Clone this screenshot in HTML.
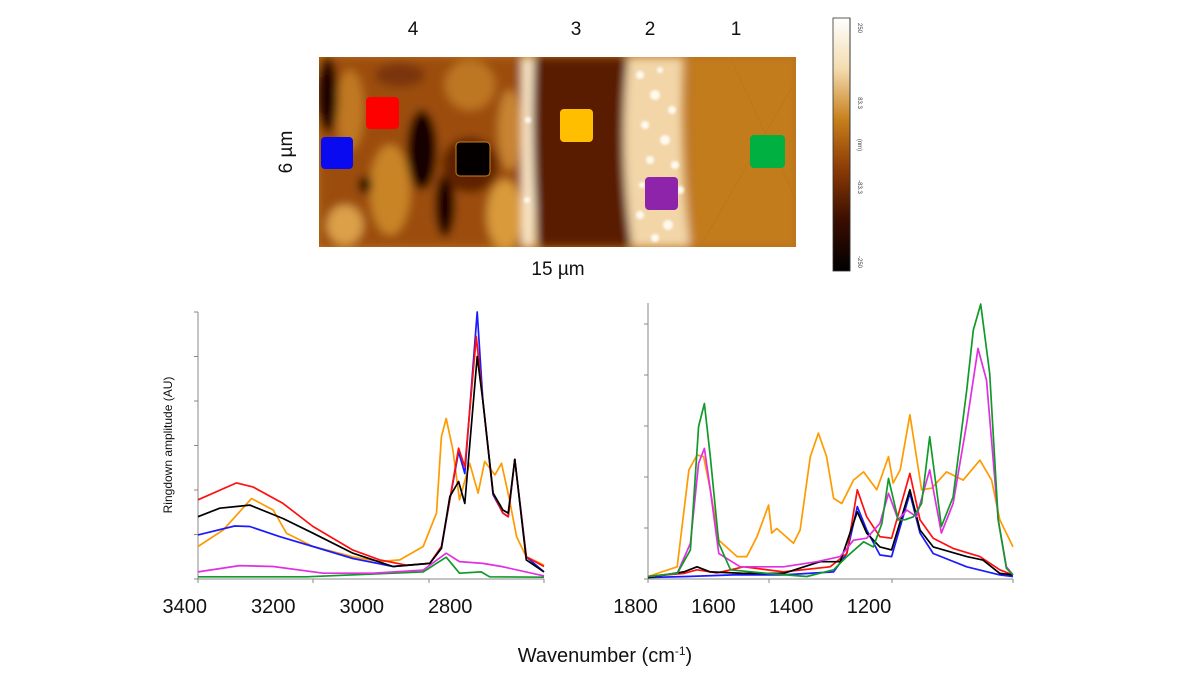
<!DOCTYPE html>
<html><head><meta charset="utf-8"><style>
html,body{margin:0;padding:0;background:#fff;}
body{width:1200px;height:682px;position:relative;overflow:hidden;font-family:"Liberation Sans",sans-serif;}
svg{position:absolute;left:0;top:0;}
</style></head><body>
<svg id="fig" width="1200" height="682" viewBox="0 0 1200 682">
<defs>
<filter id="blur3" x="-20%" y="-20%" width="140%" height="140%"><feGaussianBlur stdDeviation="4.5"/></filter>
<filter id="blur1"><feGaussianBlur stdDeviation="1.2"/></filter>
<clipPath id="afmclip"><rect x="319" y="57" width="477" height="190"/></clipPath>
<linearGradient id="cbar" x1="0" y1="0" x2="0" y2="1">
<stop offset="0" stop-color="#ffffff"/><stop offset="0.2" stop-color="#f3dcb0"/>
<stop offset="0.4" stop-color="#c8801c"/><stop offset="0.6" stop-color="#8a3a06"/>
<stop offset="0.8" stop-color="#3a0e00"/><stop offset="1" stop-color="#000000"/>
</linearGradient>
</defs>

<g clip-path="url(#afmclip)">
<rect x="319" y="57" width="477" height="190" fill="#b9701a"/>
<g filter="url(#blur3)">
<rect x="319" y="57" width="215" height="190" fill="#9c4e0e"/>
<ellipse cx="350" cy="110" rx="14" ry="40" fill="#c07824"/>
<ellipse cx="390" cy="190" rx="20" ry="45" fill="#c98428"/>
<ellipse cx="470" cy="85" rx="25" ry="25" fill="#bd7624"/>
<ellipse cx="505" cy="215" rx="18" ry="35" fill="#d99a3a"/>
<ellipse cx="510" cy="130" rx="12" ry="40" fill="#c88430"/>
<ellipse cx="328" cy="95" rx="10" ry="38" fill="#1a0500"/>
<ellipse cx="422" cy="150" rx="15" ry="40" fill="#120300"/>
<ellipse cx="445" cy="205" rx="10" ry="32" fill="#1a0500"/>
<ellipse cx="470" cy="165" rx="28" ry="28" fill="#5e2204"/>
<ellipse cx="365" cy="185" rx="7" ry="9" fill="#2a0a00"/>
<ellipse cx="345" cy="225" rx="18" ry="20" fill="#dca04a"/>
<ellipse cx="400" cy="75" rx="25" ry="12" fill="#7a3408"/>
<rect x="522" y="57" width="13" height="190" fill="#fbe8c8"/>
<path d="M534,57 L628,57 Q618,150 632,247 L538,247 Q530,150 534,57Z" fill="#5a1a00"/>
<path d="M628,57 L684,57 Q680,150 690,247 L632,247 Q618,150 628,57Z" fill="#f2d6a8"/>
<rect x="689" y="57" width="107" height="190" fill="#c27c1c"/>
</g>
<g filter="url(#blur1)" fill="#fffaf0">
<circle cx="640" cy="75" r="4"/><circle cx="655" cy="95" r="5"/><circle cx="645" cy="125" r="4"/>
<circle cx="665" cy="140" r="5"/><circle cx="650" cy="160" r="4"/><circle cx="672" cy="110" r="4"/>
<circle cx="640" cy="215" r="4"/><circle cx="668" cy="225" r="5"/><circle cx="680" cy="190" r="4"/>
<circle cx="655" cy="238" r="4"/><circle cx="528" cy="120" r="3"/><circle cx="527" cy="200" r="3"/>
<circle cx="660" cy="70" r="3"/><circle cx="675" cy="165" r="4"/><circle cx="642" cy="185" r="3"/>
</g>
<g stroke="#b06c16" stroke-width="0.6" opacity="0.5">
<line x1="700" y1="247" x2="796" y2="80"/><line x1="730" y1="57" x2="796" y2="200"/>
</g>
</g>
<rect x="321" y="137" width="32" height="32" rx="4" fill="#0a0af0"/>
<rect x="366" y="97" width="33" height="32" rx="4" fill="#ff0000"/>
<rect x="456" y="142" width="34" height="34" rx="4" fill="#050000" stroke="#c88020" stroke-width="1"/>
<rect x="560" y="109" width="33" height="33" rx="4" fill="#ffbf00"/>
<rect x="645" y="177" width="33" height="33" rx="4" fill="#8e24aa"/>
<rect x="750" y="135" width="35" height="33" rx="4" fill="#00b040"/>

<g font-size="19" fill="#111" text-anchor="middle">
<text x="413" y="35">4</text>
<text x="576" y="35">3</text>
<text x="650" y="35">2</text>
<text x="736" y="35">1</text>
<text x="558" y="275">15 µm</text>
<text x="0" y="0" transform="translate(292,152) rotate(-90)">6 µm</text>
</g>

<g>
<rect x="833" y="18" width="17" height="253" fill="url(#cbar)" stroke="#333" stroke-width="0.8"/>
<line x1="850" y1="18" x2="850" y2="271" stroke="#333" stroke-width="0.8"/>
<g font-size="6" fill="#444" text-anchor="middle">
<text transform="translate(858,28) rotate(90)">250</text>
<text transform="translate(858,103) rotate(90)">83.3</text>
<text transform="translate(858,145) rotate(90)">(nm)</text>
<text transform="translate(858,187) rotate(90)">-83.3</text>
<text transform="translate(858,262) rotate(90)">-250</text>
</g>
</g>

<g id="charts"></g>
<text x="0" y="0" transform="translate(172,445) rotate(-90)" font-size="12" text-anchor="middle" fill="#111">Ringdown amplitude (AU)</text>
<text x="605" y="662" font-size="20" text-anchor="middle" fill="#111">Wavenumber (cm<tspan baseline-shift="super" font-size="12">-1</tspan>)</text>
</svg>
<script>
const leftTickLabels = [3400, 3200, 3000, 2800];
const leftRed = [[3370,1.78],[3283,2.16],[3246,2.07],[3178,1.7],[3110,1.18],[3020,0.65],[2959,0.43],[2899,0.31],[2846,0.35],[2820,0.73],[2801,1.78],[2781,2.94],[2767,2.52],[2741,5.45],[2726,4.0],[2703,1.93],[2681,1.48],[2669,1.4],[2654,2.69],[2628,0.5],[2588,0.28]];
const leftBlue = [[3370,0.99],[3287,1.19],[3253,1.18],[3185,0.95],[3110,0.73],[3020,0.46],[2929,0.28],[2846,0.35],[2820,0.69],[2801,1.78],[2781,2.86],[2767,2.37],[2739,6.0],[2726,4.0],[2703,1.89],[2681,1.48],[2669,1.4],[2654,2.69],[2628,0.5],[2588,0.16]];
const leftBlack = [[3370,1.4],[3321,1.59],[3253,1.66],[3178,1.36],[3110,1.03],[3020,0.58],[2929,0.28],[2846,0.35],[2820,0.69],[2801,1.85],[2781,2.19],[2767,1.7],[2739,5.0],[2726,4.0],[2703,1.93],[2681,1.55],[2669,1.48],[2654,2.69],[2628,0.43],[2588,0.16]];
const leftOrange = [[3370,0.73],[3313,1.1],[3249,1.81],[3200,1.55],[3170,1.03],[3110,0.73],[3020,0.5],[2959,0.39],[2914,0.43],[2861,0.73],[2831,1.48],[2820,3.2],[2809,3.61],[2794,2.9],[2779,1.78],[2756,2.6],[2737,1.93],[2722,2.64],[2699,2.34],[2684,2.6],[2666,1.78],[2650,0.95],[2628,0.5],[2588,0.31]];
const leftMagenta = [[3370,0.16],[3276,0.3],[3200,0.28],[3087,0.13],[2974,0.13],[2861,0.2],[2809,0.58],[2779,0.39],[2726,0.35],[2684,0.28],[2588,0.07]];
const leftGreen = [[3370,0.05],[3125,0.05],[2929,0.13],[2861,0.16],[2809,0.49],[2779,0.13],[2730,0.16],[2711,0.05],[2588,0.04]];
const rightTickLabels = [1800, 1600, 1400, 1200];
const rightGreen = [[1768,0.05],[1693,0.11],[1659,0.57],[1638,2.99],[1623,3.44],[1608,2.4],[1586,0.7],[1556,0.18],[1462,0.11],[1360,0.05],[1291,0.18],[1257,0.44],[1214,0.73],[1189,0.63],[1167,1.09],[1150,1.97],[1125,1.16],[1108,1.16],[1086,1.22],[1065,1.48],[1044,2.79],[1014,1.03],[984,1.61],[949,3.7],[932,4.88],[913,5.39],[890,4.03],[868,1.16],[847,0.21],[830,0.08]];
const rightMagenta = [[1768,0.05],[1693,0.11],[1659,0.7],[1638,2.27],[1623,2.56],[1608,1.75],[1586,0.5],[1531,0.24],[1420,0.24],[1334,0.34],[1274,0.44],[1240,0.76],[1206,0.8],[1172,1.09],[1150,1.68],[1125,1.16],[1103,1.35],[1078,1.22],[1044,2.14],[1014,0.9],[984,1.48],[949,3.05],[920,4.52],[898,3.9],[868,1.16],[847,0.24],[830,0.08]];
const rightOrange = [[1768,0.05],[1693,0.24],[1663,2.14],[1642,2.43],[1625,2.4],[1608,1.75],[1586,0.76],[1539,0.44],[1514,0.44],[1488,0.83],[1458,1.45],[1450,0.9],[1437,0.99],[1394,0.7],[1377,0.96],[1351,2.4],[1330,2.86],[1309,2.4],[1291,1.58],[1270,1.48],[1240,1.94],[1214,2.1],[1180,1.75],[1150,2.4],[1138,1.88],[1120,2.14],[1095,3.22],[1065,1.75],[1039,1.78],[1001,2.1],[958,1.94],[915,2.33],[885,1.94],[864,1.16],[830,0.63]];
const rightRed = [[1768,0.05],[1676,0.11],[1642,0.18],[1591,0.12],[1522,0.24],[1420,0.14],[1300,0.24],[1257,0.5],[1230,1.75],[1206,1.22],[1172,0.83],[1142,0.8],[1095,2.07],[1069,1.16],[1035,0.8],[984,0.6],[915,0.44],[864,0.18],[830,0.08]];
const rightBlue = [[1768,0.03],[1667,0.05],[1548,0.08],[1420,0.08],[1291,0.14],[1257,0.5],[1230,1.42],[1206,0.96],[1172,0.47],[1142,0.44],[1095,1.68],[1069,0.9],[1035,0.5],[949,0.24],[864,0.08],[830,0.05]];
const rightBlack = [[1768,0.03],[1676,0.14],[1642,0.24],[1608,0.14],[1522,0.11],[1420,0.11],[1326,0.34],[1274,0.34],[1230,1.32],[1206,0.9],[1172,0.63],[1142,0.57],[1095,1.75],[1069,0.96],[1035,0.63],[949,0.44],[907,0.37],[864,0.11],[830,0.08]];

const NS = 'http://www.w3.org/2000/svg';
const root = document.getElementById('charts');
function mk(tag, attrs, parent){const e=document.createElementNS(NS,tag);for(const k in attrs)e.setAttribute(k,attrs[k]);(parent||root).appendChild(e);return e;}

function drawChart(cfg){
  const g = mk('g',{});
  
  
  const xs = v => cfg.x0 + (cfg.d0 - v) / (cfg.d0 - cfg.d1) * (cfg.x1 - cfg.x0);
  const ys = v => cfg.yb - v * cfg.yStep;
  const ax = mk('line',{x1:cfg.x0,y1:cfg.yb,x2:cfg.x0,y2:cfg.yt,stroke:'#888','stroke-width':1},g);
  
  
  const bx = mk('line',{x1:cfg.x0,y1:cfg.yb,x2:cfg.x1,y2:cfg.yb,stroke:'#888','stroke-width':1},g);
  
  
  for(let i=0;i<=cfg.nY;i++){
    const t = mk('line',{x1:cfg.x0-4,y1:ys(i),x2:cfg.x0,y2:ys(i),stroke:'#888','stroke-width':1},g);
    
    
  }
  cfg.xTicks.forEach(px=>{
    const t = mk('line',{x1:px,y1:cfg.yb,x2:px,y2:cfg.yb+4,stroke:'#888','stroke-width':1},g);
    
    
  });
  cfg.labels.forEach(v=>{
    const t = mk('text',{x:xs(v),y:cfg.yb+34,'font-size':20,'text-anchor':'middle',fill:'#111'},g);
    t.textContent = v;
    
    
  });
  cfg.series.forEach(s=>{
    const p = mk('polyline',{points:s.data.map(d=>xs(d[0]).toFixed(1)+','+ys(d[1]).toFixed(1)).join(' '),fill:'none',stroke:s.color,'stroke-width':1.7,'stroke-linejoin':'round'},g);
    
    
  });
}

drawChart({name:'left-chart', x0:198, x1:544, d0:3370, d1:2588, yb:579, yt:312, yStep:44.5, nY:6,
  xTicks:[198,313,429,544], labels:leftTickLabels,
  series:[{n:'green',color:'#119a2a',data:leftGreen},{n:'magenta',color:'#e030e0',data:leftMagenta},
    {n:'orange',color:'#ff9a00',data:leftOrange},{n:'blue',color:'#1a1aff',data:leftBlue},
    {n:'red',color:'#ff1010',data:leftRed},{n:'black',color:'#000',data:leftBlack}]});

drawChart({name:'right-chart', x0:648, x1:1013, d0:1768, d1:830, yb:579, yt:303, yStep:51, nY:5,
  xTicks:[648,769,892,1013], labels:rightTickLabels,
  series:[{n:'orange',color:'#ff9a00',data:rightOrange},{n:'blue',color:'#1a1aff',data:rightBlue},
    {n:'red',color:'#ff1010',data:rightRed},{n:'black',color:'#000',data:rightBlack},
    {n:'magenta',color:'#e030e0',data:rightMagenta},{n:'green',color:'#119a2a',data:rightGreen}]});
</script>
</body></html>
